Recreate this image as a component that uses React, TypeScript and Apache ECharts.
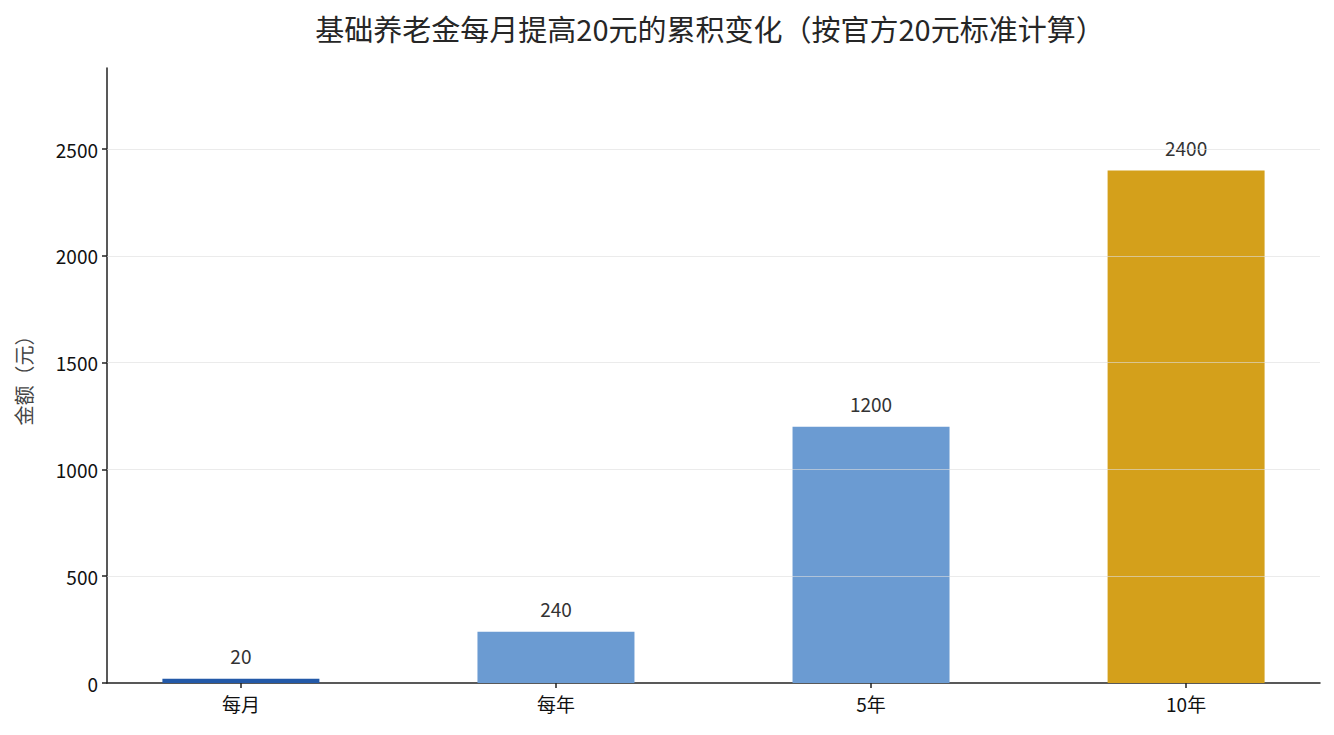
import React, { useEffect, useRef } from "react";
import * as echarts from "echarts";

const categories = ["每月", "每年", "5年", "10年"];
const values = [20, 240, 1200, 2400];
const barColors = ["#2359a8", "#6b9bd2", "#6b9bd2", "#d4a01b"];
const yTicks = [0, 500, 1000, 1500, 2000, 2500];
const gridLines = [500, 1000, 1500, 2000, 2500];
const titleText = "基础养老金每月提高20元的累积变化（按官方20元标准计算）";
const yName = "金额（元）";

const FONT = "'Noto Sans CJK SC', 'Noto Sans', sans-serif";

export default function App() {
  const ref = useRef<HTMLDivElement>(null);
  useEffect(() => {
    if (!ref.current) return;
    const chart = echarts.init(ref.current, null, { renderer: "svg" });
    const positions = categories.map((_, i) => i);
    chart.setOption({
      animation: false,
      backgroundColor: "#ffffff",
      textStyle: { fontFamily: FONT },
      title: {
        text: titleText,
        left: 705,
        textAlign: "center",
        top: 8,
        textStyle: { fontFamily: FONT, fontSize: 29, fontWeight: "normal", color: "#262626" },
      },
      grid: { left: 107, right: 14, top: 68, bottom: 52, containLabel: false },
      xAxis: {
        type: "value",
        min: -0.425,
        max: 3.425,
        splitLine: { show: false },
        axisLine: { show: true, onZero: false, lineStyle: { color: "#222", width: 1.5 } },
        axisTick: { show: true, customValues: positions, length: 5, lineStyle: { color: "#222", width: 1.5 } },
        axisLabel: {
          customValues: positions,
          formatter: (v: number) => categories[Math.round(v)] ?? "",
          color: "#111",
          fontSize: 19,
          fontFamily: FONT,
          margin: 11,
        },
      },
      yAxis: {
        type: "value",
        min: 0,
        max: 2880,
        name: yName,
        nameLocation: "middle",
        nameGap: 74,
        nameTextStyle: { color: "#444", fontSize: 20, fontFamily: FONT },
        splitLine: { show: false },
        axisLine: { show: true, onZero: false, lineStyle: { color: "#222", width: 1.5 } },
        axisTick: { show: true, customValues: yTicks, length: 5, lineStyle: { color: "#222", width: 1.5 } },
        axisLabel: {
          customValues: yTicks,
          formatter: (v: number) => String(v),
          color: "#111",
          fontSize: 19,
          fontFamily: FONT,
          margin: 9,
        },
      },
      series: [
        {
          type: "bar",
          barWidth: 157,
          data: values.map((v, i) => ({ value: [i, v], itemStyle: { color: barColors[i] } })),
          label: {
            show: true,
            position: "top",
            distance: 14,
            formatter: (p: any) => String(p.value[1]),
            color: "#333",
            fontSize: 19,
            fontFamily: FONT,
          },
          markLine: {
            silent: true,
            symbol: "none",
            label: { show: false },
            lineStyle: { color: "rgba(222,222,222,0.6)", width: 1, type: "solid" },
            data: gridLines.map((g) => ({ yAxis: g })),
            z: 5,
          },
        },
      ],
    });
    return () => chart.dispose();
  }, []);
  return (
    <div
      ref={ref}
      style={{ position: "fixed", left: 0, top: 0, width: 1334, height: 735, background: "#fff" }}
    />
  );
}
